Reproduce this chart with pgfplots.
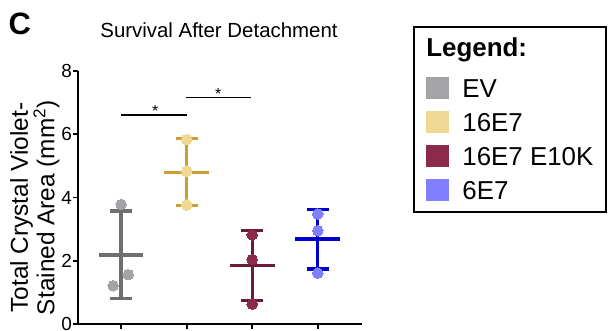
\documentclass[border=0pt]{standalone}
\usepackage{fontspec}
\setmainfont{Liberation Sans}
\usepackage{pgfplots}
\pgfplotsset{compat=1.18}
\definecolor{evline}{HTML}{6F6F6F}
\definecolor{evpt}{HTML}{A3A3A8}
\definecolor{aline}{HTML}{C9A133}
\definecolor{apt}{HTML}{EED893}
\definecolor{bline}{HTML}{6B1B36}
\definecolor{bpt}{HTML}{8B2A4B}
\definecolor{cline}{HTML}{0000CC}
\definecolor{cpt}{HTML}{8080FF}
\pgfplotsset{
  ebar/.style={forget plot, draw=none, mark=none,
    error bars/.cd, y dir=both, y explicit,
    error bar style={line width=3.2bp, #1},
    error mark options={#1, line width=3.2bp, mark size=11bp, rotate=90}},
  pts/.style={forget plot, only marks, mark=*, mark size=5.3bp, color=#1,
    mark options={fill=#1, draw=#1, line width=0pt}},
}
\begin{document}
\begin{tikzpicture}
\useasboundingbox (-78bp,-7bp) rectangle (533bp,324bp);
\begin{axis}[
  at={(0,0)}, anchor=south west,
  scale only axis, width=283.7bp, height=253bp,
  xmin=0.343, xmax=4.67, ymin=0, ymax=8,
  axis lines=left, axis line style={-, line width=2.6bp, black},
  xtick={1,2,3,4}, xticklabels={},
  ytick={0,2,4,6,8},
  tick align=outside, major tick length=5bp,
  every tick/.style={black, line width=1.8bp},
  /pgf/number format/assume math mode=true,
  yticklabel style={font=\fontsize{19}{19}\selectfont, inner xsep=1bp},
  ylabel={Total Crystal Violet-\\Stained Area (mm\textsuperscript{2})},
  ylabel style={at={(axis description cs:-0.2397,0.46)}, anchor=north, inner sep=0pt,
    align=center, font=\fontsize{24.5}{26.5}\selectfont},
  title={Survival After Detachment},
  title style={at={(axis description cs:0.497,1.1105)}, anchor=base, inner sep=0pt,
    font=\fontsize{20.5}{20.5}\selectfont},
  legend style={at={(axis description cs:1.181,1.177)}, anchor=north west,
    draw=black, line width=1.6bp, inner xsep=12.5bp, inner ysep=10.5bp,
    column sep=13bp, row sep=12bp, font=\fontsize{26}{26}\selectfont,
    nodes={inner sep=0pt, text height=19bp, text depth=1bp},
    cells={anchor=west}},
  legend image code/.code={\fill[#1] (0bp,-11bp) rectangle (23bp,11bp);},
  clip=false,
]
% EV
\addplot[ebar=evline] coordinates {(1,2.185) +- (0,1.385)};
\addplot[forget plot, evline, line width=3.2bp] coordinates {(0.66,2.18) (1.34,2.18)};
\addplot[pts=evpt] coordinates {(1,3.78) (1.11,1.56) (0.88,1.21)};
% 16E7
\addplot[ebar=aline] coordinates {(2,4.81) +- (0,1.06)};
\addplot[forget plot, aline, line width=3.2bp] coordinates {(1.66,4.80) (2.34,4.80)};
\addplot[pts=apt] coordinates {(2,5.83) (2,4.83) (2,3.76)};
% 16E7 E10K
\addplot[ebar=bline] coordinates {(3,1.85) +- (0,1.10)};
\addplot[forget plot, bline, line width=3.2bp] coordinates {(2.66,1.84) (3.34,1.84)};
\addplot[pts=bpt] coordinates {(3,2.82) (3,2.04) (3,0.63)};
% 6E7
\addplot[ebar=cline] coordinates {(4,2.685) +- (0,0.945)};
\addplot[forget plot, cline, line width=3.2bp] coordinates {(3.66,2.69) (4.34,2.69)};
\addplot[pts=cpt] coordinates {(4,3.48) (4,2.95) (4,1.61)};
% significance
\draw[line width=1.4bp] (axis cs:1,6.61) -- (axis cs:2,6.61);
\draw[line width=1.4bp] (axis cs:1.99,7.16) -- (axis cs:2.98,7.16);
\node[anchor=base, inner sep=0pt, font=\fontsize{16}{16}\selectfont] at (axis cs:1.52,6.55) {*};
\node[anchor=base, inner sep=0pt, font=\fontsize{16}{16}\selectfont] at (axis cs:2.48,7.10) {*};
% legend
\addlegendimage{empty legend}
\addlegendentry[text depth=8.7bp]{\hspace*{-36bp}\textbf{Legend:}}
\addlegendimage{fill=evpt, draw=none}
\addlegendentry{EV}
\addlegendimage{fill=apt, draw=none}
\addlegendentry{16E7}
\addlegendimage{fill=bpt, draw=none}
\addlegendentry{16E7 E10K}
\addlegendimage{fill=cpt, draw=none}
\addlegendentry{6E7}
\end{axis}
\node[anchor=base west, inner sep=0pt, font=\bfseries\fontsize{31}{31}\selectfont] at (-69.5bp,289bp) {C};
\end{tikzpicture}
\end{document}
